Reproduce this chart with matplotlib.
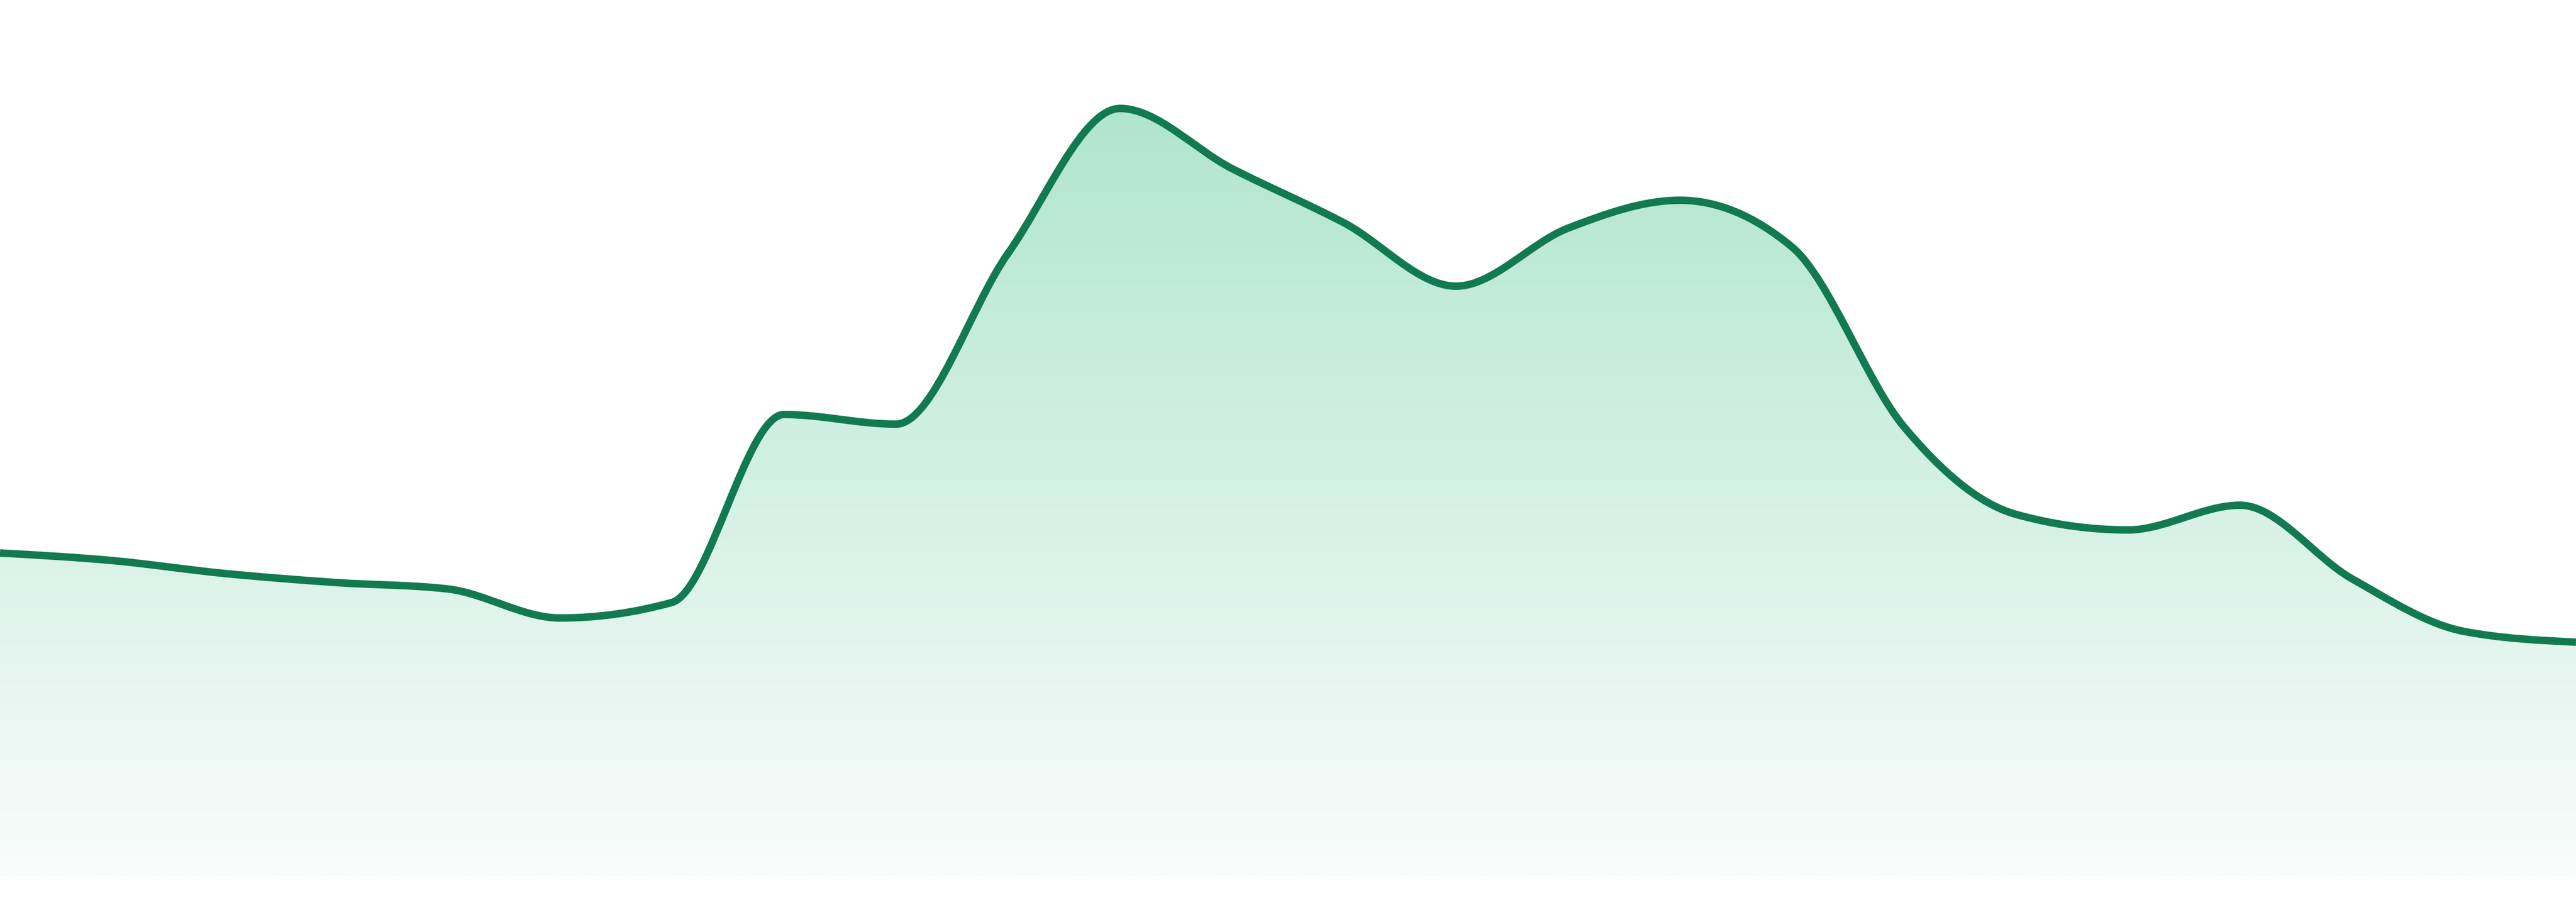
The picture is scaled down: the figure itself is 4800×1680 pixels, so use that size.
import numpy as np
import matplotlib
matplotlib.use('Agg')
import matplotlib.pyplot as plt
from matplotlib.path import Path
from matplotlib.patches import PathPatch

# values (24 evenly spaced points)
values = [60.2, 58.8, 56.4, 54.7, 53.5, 48.1, 51.0, 86.0, 84.2, 116.0, 143.0, 131.8,
          121.7, 109.9, 120.7, 125.9, 117.2, 83.7, 67.4, 64.5, 69.1, 55.4, 45.6, 43.6]
line_color = '#117a50'
fill_top = '#b0e5cf'
fill_bottom = '#f9fcfb'


def monotone_slopes(y):
    # same idea as d3 curveMonotoneX (steffen)
    y = np.asarray(y, float)
    n = len(y)
    d = np.diff(y)
    m = np.zeros(n)
    for i in range(1, n - 1):
        s0, s1 = d[i - 1], d[i]
        p = (s0 + s1) / 2
        m[i] = (np.sign(s0) + np.sign(s1)) * min(abs(s0), abs(s1), 0.5 * abs(p))
    m[0] = (3 * d[0] - m[1]) / 2
    m[-1] = (3 * d[-1] - m[-2]) / 2
    return m


def curve_path(y, close_to=None):
    m = monotone_slopes(y)
    verts = [(0, y[0])]
    codes = [Path.MOVETO]
    for i in range(len(y) - 1):
        verts += [(i + 1/3, y[i] + m[i]/3), (i + 1 - 1/3, y[i+1] - m[i+1]/3), (i + 1, y[i+1])]
        codes += [Path.CURVE4] * 3
    if close_to is not None:
        verts += [(len(y) - 1, close_to), (0, close_to), (0, y[0])]
        codes += [Path.LINETO, Path.LINETO, Path.CLOSEPOLY]
    return Path(verts, codes)


fig = plt.figure(figsize=(48, 16.8), dpi=100)
ax = fig.add_axes([0, 48/1680, 1, 1632/1680])
ax.set_xlim(0, len(values) - 1)
ax.set_ylim(0, 163.2)
ax.axis('off')

# gradient fill under the line
fill = PathPatch(curve_path(values, close_to=0), facecolor='none', edgecolor='none')
ax.add_patch(fill)
c0 = np.array(matplotlib.colors.to_rgb(fill_top))
c1 = np.array(matplotlib.colors.to_rgb(fill_bottom))
t = np.linspace(0, 1, 256)[:, None]
grad = (c0 * (1 - t) + c1 * t)[:, None, :]
img = ax.imshow(grad, extent=[0, len(values) - 1, 0, max(values)], aspect='auto',
                origin='upper', interpolation='bilinear', zorder=1)
img.set_clip_path(fill)

line = PathPatch(curve_path(values), facecolor='none', edgecolor=line_color,
                 lw=10, capstyle='butt', joinstyle='round', zorder=2)
ax.add_patch(line)

fig.savefig('out.png', dpi=100, facecolor='white')
